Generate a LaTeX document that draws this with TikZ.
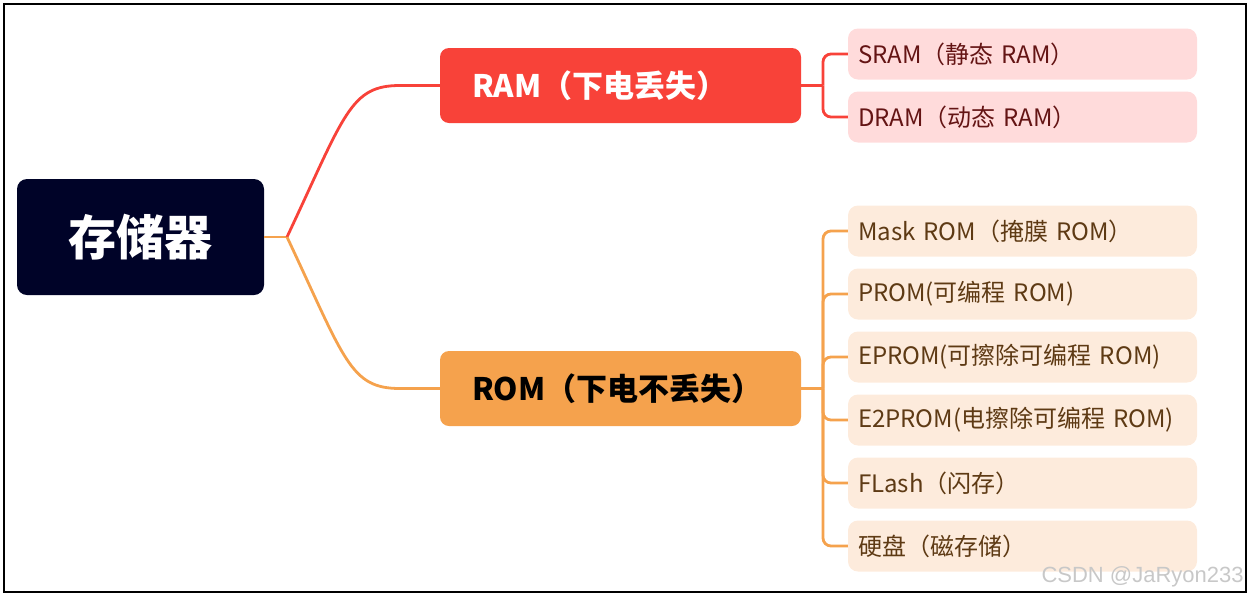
\documentclass[tikz,border=0pt]{standalone}
\usepackage{fontspec}
\setmainfont{Noto Sans CJK SC}
\newfontfamily\wmfont{Liberation Sans}
\usepackage{tikz}

\definecolor{rootfill}{HTML}{000328}
\definecolor{ramred}{HTML}{F84239}
\definecolor{romorange}{HTML}{F5A24D}
\definecolor{ramleaf}{HTML}{FFDBDB}
\definecolor{romleaf}{HTML}{FDEBDC}
\definecolor{ramtext}{HTML}{641414}
\definecolor{romtext}{HTML}{5E3A14}
\definecolor{wmgray}{HTML}{C8C8C8}

\tikzset{
	rootbox/.style={fill=rootfill, text=white, rounded corners=10pt, minimum width=247pt, minimum height=116pt, font=\fontsize{48}{56}\selectfont\bfseries},
	midbox/.style={rounded corners=9pt, text width=297pt, inner xsep=32pt, inner ysep=0pt, minimum height=75pt, align=left, font=\fontsize{31}{36}\selectfont\bfseries},
	leafbox/.style={rounded corners=10pt, text width=329pt, inner xsep=10pt, inner ysep=0pt, minimum height=51pt, align=left, font=\fontsize{24}{28}\selectfont},
	branch/.style={line width=2.8pt}
}

\begin{document}
\begin{tikzpicture}[x=1pt, y=-1pt]
			%%%%% START %%%%%
			
			\useasboundingbox (0, 0) rectangle (1252, 598);
			
			\node[rootbox] (mem) at (140.5, 237) {存储器};
			
			\node[midbox, fill=ramred, text=white] (ram) at (620.5, 85.5) {RAM（下电丢失）};
			\node[midbox, fill=romorange, text=black] (rom) at (620.5, 388.5) {ROM（下电不丢失）};
			
			\node[leafbox, fill=ramleaf, text=ramtext] (sram) at (1022.5, 54) {SRAM（静态 RAM）};
			\node[leafbox, fill=ramleaf, text=ramtext] (dram) at (1022.5, 117) {DRAM（动态 RAM）};
			
			\node[leafbox, fill=romleaf, text=romtext] (mask) at (1022.5, 231) {Mask ROM（掩膜 ROM）};
			\node[leafbox, fill=romleaf, text=romtext] (prom) at (1022.5, 294) {PROM(可编程 ROM)};
			\node[leafbox, fill=romleaf, text=romtext] (eprom) at (1022.5, 357) {EPROM(可擦除可编程 ROM)};
			\node[leafbox, fill=romleaf, text=romtext] (eeprom) at (1022.5, 420) {E2PROM(电擦除可编程 ROM)};
			\node[leafbox, fill=romleaf, text=romtext] (flash) at (1022.5, 483) {FLash（闪存）};
			\node[leafbox, fill=romleaf, text=romtext] (disk) at (1022.5, 546) {硬盘（磁存储）};
			
			\coordinate (memj) at (287, 237);
			\coordinate (ramj) at (823, 85.5);
			\coordinate (romj) at (823, 388.5);
			
			\draw[branch, romorange] (mem.east) -- (memj);
			\draw[branch, ramred] (memj) .. controls (345, 114) and (350, 85.5) .. (400, 85.5) -- (ram.west);
			\draw[branch, romorange] (memj) .. controls (345, 360) and (350, 388.5) .. (400, 388.5) -- (rom.west);
			
			\draw[branch, ramred] (ram.east) -- (ramj);
			\draw[branch, ramred, rounded corners=8pt] (ramj) |- (sram.west);
			\draw[branch, ramred, rounded corners=8pt] (ramj) |- (dram.west);
			
			\draw[branch, romorange] (rom.east) -- (romj);
			\draw[branch, romorange, rounded corners=8pt] (romj) |- (mask.west);
			\draw[branch, romorange, rounded corners=8pt] (romj) |- (prom.west);
			\draw[branch, romorange, rounded corners=8pt] (romj) |- (eprom.west);
			\draw[branch, romorange, rounded corners=8pt] (romj) |- (eeprom.west);
			\draw[branch, romorange, rounded corners=8pt] (romj) |- (flash.west);
			\draw[branch, romorange, rounded corners=8pt] (romj) |- (disk.west);
			
			\node[anchor=west, text=wmgray, font=\wmfont\fontsize{22}{26}\selectfont] (wm) at (1038, 577) {CSDN @JaRyon233};
			
			\draw[line width=1.5pt] (4, 4) rectangle (1246, 592);
			
			%%%%% END %%%%%
\end{tikzpicture}
\end{document}
